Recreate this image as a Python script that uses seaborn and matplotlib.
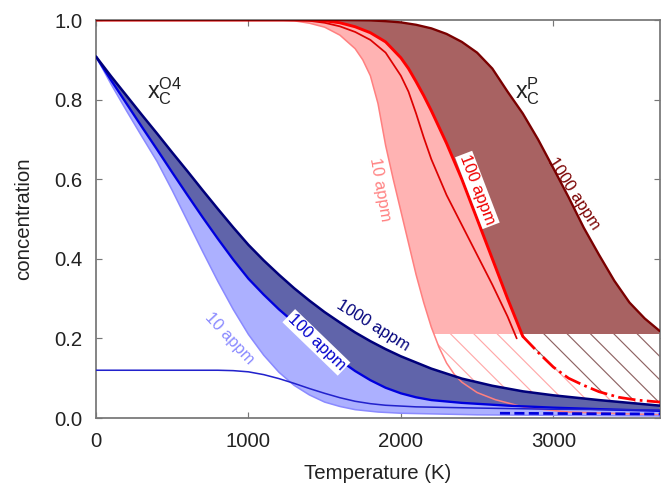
import numpy as np
import matplotlib
matplotlib.use("Agg")
import matplotlib.pyplot as plt
import matplotlib.patches as mpatches
import seaborn as sns

# ---- data (T in K, concentration) ----
# blue: x_C^O4 curves
t_b1000 = [0, 100, 200, 300, 400, 500, 600, 700, 800, 900, 1000, 1100, 1200, 1300, 1400, 1500, 1600, 1700,
           1800, 1900, 2000, 2200, 2400, 2600, 2800, 3000, 3300, 3700]
v_b1000 = [0.908, 0.858, 0.81, 0.762, 0.715, 0.667, 0.62, 0.572, 0.525, 0.479, 0.435, 0.396, 0.36, 0.326, 0.295,
           0.266, 0.24, 0.215, 0.193, 0.173, 0.155, 0.124, 0.099, 0.081, 0.067, 0.057, 0.045, 0.031]

t_b100 = [0, 100, 200, 300, 400, 500, 600, 700, 800, 900, 1000, 1100, 1200, 1300, 1400, 1500, 1600, 1700,
          1800, 1900, 2000, 2100, 2200, 2400, 2700, 3000, 3400, 3700]
v_b100 = [0.908, 0.848, 0.79, 0.732, 0.675, 0.617, 0.56, 0.504, 0.45, 0.398, 0.35, 0.31, 0.273, 0.24, 0.207,
          0.175, 0.145, 0.118, 0.095, 0.076, 0.062, 0.052, 0.045, 0.038, 0.031, 0.026, 0.021, 0.018]

t_b10 = [0, 100, 200, 300, 400, 500, 600, 700, 800, 900, 1000, 1100, 1200, 1300, 1400, 1500, 1600, 1700,
         1850, 2000, 2500, 3700]
v_b10 = [0.908, 0.838, 0.772, 0.708, 0.645, 0.572, 0.495, 0.418, 0.343, 0.273, 0.21, 0.158, 0.115, 0.082,
         0.058, 0.04, 0.029, 0.021, 0.015, 0.012, 0.008, 0.005]

t_bflat = [0, 800, 900, 1000, 1100, 1200, 1300, 1400, 1500, 1600, 1700, 1800, 1900, 2100, 2500, 3000, 3700]
v_bflat = [0.12, 0.12, 0.119, 0.116, 0.109, 0.099, 0.087, 0.074, 0.062, 0.051, 0.042, 0.036, 0.032, 0.028,
           0.025, 0.022, 0.02]

t_bdash = [2650, 3700]
v_bdash = [0.012, 0.01]

# red: x_C^P curves
t_r1000 = [0, 1600, 1800, 1900, 2000, 2100, 2200, 2300, 2400, 2500, 2600, 2700, 2800, 2900, 3000, 3100, 3200,
           3300, 3400, 3500, 3600, 3700]
v_r1000 = [1.0, 1.0, 0.999, 0.997, 0.994, 0.988, 0.979, 0.965, 0.945, 0.918, 0.878, 0.82, 0.765, 0.7, 0.628,
           0.555, 0.478, 0.41, 0.345, 0.29, 0.25, 0.218]

t_r100 = [0, 1400, 1500, 1600, 1700, 1800, 1900, 2000, 2050, 2100, 2150, 2200, 2300, 2400, 2500, 2600, 2700, 2800]
v_r100 = [1.0, 1.0, 0.998, 0.993, 0.983, 0.968, 0.945, 0.905, 0.878, 0.845, 0.81, 0.772, 0.69, 0.6, 0.5, 0.4,
          0.3, 0.205]

t_r100d = [2800, 2900, 3000, 3100, 3200, 3300, 3430, 3550, 3700]
v_r100d = [0.205, 0.165, 0.128, 0.1, 0.082, 0.066, 0.052, 0.045, 0.04]

t_rthin = [0, 1300, 1400, 1500, 1600, 1700, 1800, 1900, 2000, 2050, 2100, 2150, 2200, 2300, 2400, 2500, 2600,
           2700, 2760]
v_rthin = [1.0, 1.0, 0.998, 0.993, 0.984, 0.97, 0.95, 0.918, 0.86, 0.82, 0.765, 0.705, 0.65, 0.56, 0.485, 0.41,
           0.335, 0.255, 0.2]

t_r10 = [0, 1200, 1300, 1400, 1500, 1600, 1700, 1750, 1800, 1850, 1900, 1950, 2000, 2050, 2100, 2150, 2200,
         2250, 2300, 2350, 2400, 2500, 2620, 2820, 3100, 3700]
v_r10 = [1.0, 1.0, 0.998, 0.992, 0.982, 0.962, 0.928, 0.9, 0.86, 0.79, 0.685, 0.6, 0.52, 0.44, 0.36, 0.29,
         0.228, 0.178, 0.138, 0.11, 0.09, 0.064, 0.046, 0.026, 0.015, 0.008]

cut = 0.21  # solid fill above, hatched below

sns.set_style("ticks")
plt.rcParams["font.family"] = ["Liberation Sans", "DejaVu Sans"]
plt.rcParams["mathtext.fontset"] = "custom"
plt.rcParams["mathtext.rm"] = "Liberation Sans"
plt.rcParams["mathtext.it"] = "Liberation Sans"
plt.rcParams["hatch.linewidth"] = 0.6

fig = plt.figure(figsize=(664 / 140, 491 / 140), dpi=140)
ax = fig.add_axes([96 / 664, 73 / 491, 564 / 664, 398 / 491])


def poly(ta, va, tb, vb):
    return np.concatenate([ta, tb[::-1]]), np.concatenate([va, vb[::-1]])


def band(ta, va, tb, vb, solid, hatchcol, z):
    x, y = poly(np.array(ta), np.array(va), np.array(tb), np.array(vb))
    top = ax.fill(x, y, color=solid, lw=0, zorder=z)[0]
    top.set_clip_path(mpatches.Rectangle((-100, cut), 4000, 1.0, transform=ax.transData))
    bot = ax.fill(x, y, facecolor="white", edgecolor=hatchcol, lw=0, hatch="\\\\", zorder=z)[0]
    bot.set_clip_path(mpatches.Rectangle((-100, -0.1), 4000, cut + 0.1, transform=ax.transData))


t_r100_all = t_r100 + t_r100d[1:]
v_r100_all = v_r100 + v_r100d[1:]
band(t_r100_all, v_r100_all, t_r10, v_r10, "#ffb3b3", "#ffa8a8", 1)
band(t_r1000, v_r1000, t_r100_all, v_r100_all, "#a86262", "#8e6262", 1.1)

# blue bands
x, y = poly(np.array(t_b1000), np.array(v_b1000), np.array(t_b100), np.array(v_b100))
ax.fill(x, y, color="#6064aa", lw=0, zorder=2)
x, y = poly(np.array(t_b100), np.array(v_b100), np.array(t_b10), np.array(v_b10))
ax.fill(x, y, color="#acb0ff", lw=0, zorder=2)

# lines
sns.lineplot(x=t_r10, y=v_r10, ax=ax, color="#ff8080", lw=0.8, zorder=3)
sns.lineplot(x=t_rthin, y=v_rthin, ax=ax, color="#dd0000", lw=0.9, zorder=3)
sns.lineplot(x=t_r100, y=v_r100, ax=ax, color="#ff0000", lw=1.5, zorder=3)
sns.lineplot(x=t_r100d, y=v_r100d, ax=ax, color="#ff0000", lw=1.4, ls="-.", zorder=3)
sns.lineplot(x=t_r1000, y=v_r1000, ax=ax, color="#7a0000", lw=1.2, zorder=3)

sns.lineplot(x=t_b10, y=v_b10, ax=ax, color="#8a8aff", lw=0.8, zorder=4)
sns.lineplot(x=t_b100, y=v_b100, ax=ax, color="#0000dd", lw=1.2, zorder=4)
sns.lineplot(x=t_b1000, y=v_b1000, ax=ax, color="#00007a", lw=1.3, zorder=4)
sns.lineplot(x=t_bflat, y=v_bflat, ax=ax, color="#2222cc", lw=0.8, zorder=4)
sns.lineplot(x=t_bdash, y=v_bdash, ax=ax, color="#0000dd", lw=1.4, ls="--", zorder=4)

# labels on curves
lab = dict(ha="center", va="center", rotation_mode="anchor", fontsize=8.5, zorder=6)
box = dict(boxstyle="square,pad=0.1", fc="white", ec="none")
ax.text(1820, 0.232, "1000 appm", rotation=-32, color="#00007a", **lab)
ax.text(1446, 0.19, "100 appm", rotation=-44, color="#0000cc", bbox=box, **lab)
ax.text(877, 0.2, "10 appm", rotation=-47, color="#8a8aff", **lab)
ax.text(1860, 0.573, "10 appm", rotation=-80, color="#ff8080", **lab)
ax.text(2502, 0.573, "100 appm", rotation=-69, color="#ee0000", bbox=box, **lab)
ax.text(3137, 0.565, "1000 appm", rotation=-57, color="#7a0000", **lab)
ax.text(452, 0.82, r"$\mathrm{x}_{\mathrm{C}}^{\mathrm{O4}}$", fontsize=12, ha="center", va="center", color="#222222")
ax.text(2829, 0.82, r"$\mathrm{x}_{\mathrm{C}}^{\mathrm{P}}$", fontsize=12, ha="center", va="center", color="#222222")

ax.set_xlim(0, 3700)
ax.set_ylim(0, 1.0)
ax.set_xticks([0, 1000, 2000, 3000])
ax.set_yticks([0.0, 0.2, 0.4, 0.6, 0.8, 1.0])
ax.set_yticklabels(["0.0", "0.2", "0.4", "0.6", "0.8", "1.0"])
ax.tick_params(direction="in", length=3, width=0.6, color="#777777", top=True, right=True,
               labelsize=10.5, pad=7, labelcolor="#222222")
for s in ax.spines.values():
    s.set_color("#777777")
    s.set_linewidth(0.9)
ax.set_xlabel("Temperature (K)", fontsize=10.5, color="#222222", labelpad=7)
ax.set_ylabel("concentration", fontsize=10.5, color="#222222", labelpad=11)

fig.savefig("out.png", dpi=140)
